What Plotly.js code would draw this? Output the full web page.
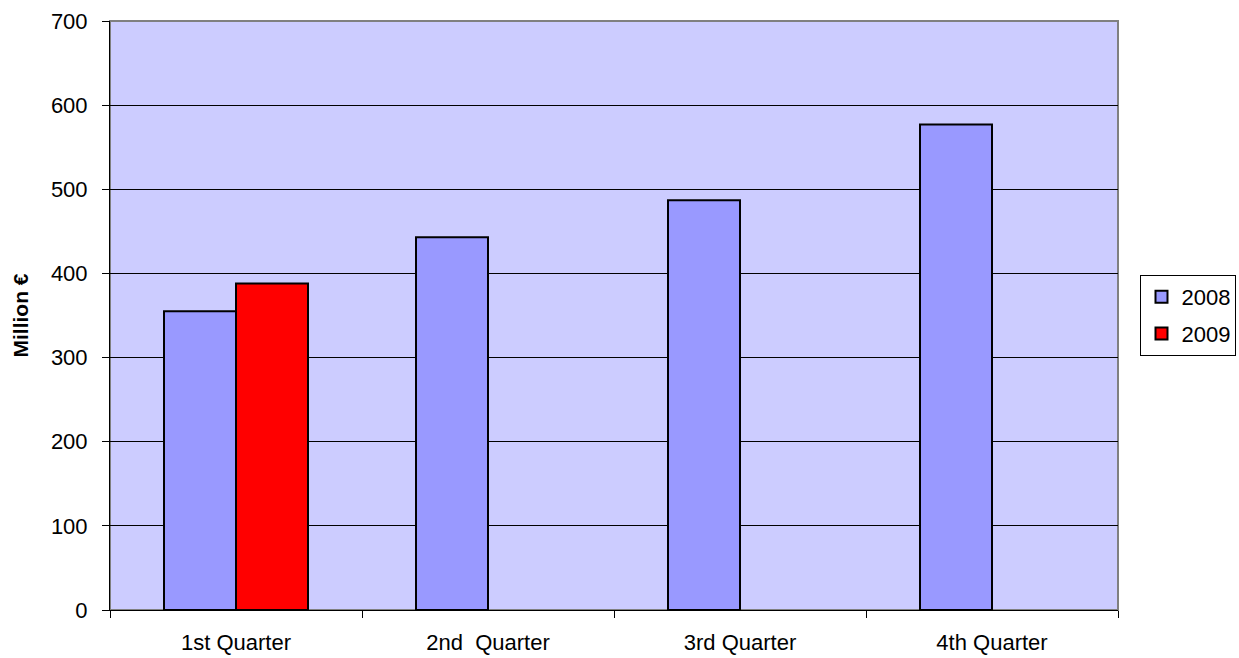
<!DOCTYPE html>
<html>
<head>
<meta charset="utf-8">
<script src="https://cdn.plot.ly/plotly-3.0.1.min.js"></script>
<style>html,body{margin:0;padding:0;background:#fff;}#chart{width:1239px;height:658px;}</style>
</head>
<body>
<div id="chart"></div>
<script>
const categories = ["1st Quarter", "2nd\u00a0 Quarter", "3rd Quarter", "4th Quarter"];
const series2008 = [355, 443, 487, 577];
const series2009 = [388, null, null, null];
const yTicks = [0, 100, 200, 300, 400, 500, 600, 700];

const traces = [
  {type: "bar", name: "2008", x: categories, y: series2008, legendgroup: "a",
   marker: {color: "#9999FF", line: {color: "#000000", width: 2}}},
  {type: "bar", name: "2009", x: categories, y: series2009, legendgroup: "b",
   marker: {color: "#FF0000", line: {color: "#000000", width: 2}}}
];

const layout = {
  width: 1239, height: 658,
  margin: {l: 110, r: 121, t: 21, b: 48, pad: 0, autoexpand: false},
  paper_bgcolor: "#ffffff",
  plot_bgcolor: "#CCCCFF",
  barmode: "group",
  bargap: 0.4286,
  bargroupgap: 0,
  font: {family: "Liberation Sans, Arial, sans-serif", size: 22, color: "#000"},
  showlegend: true,
  legend: {xref: "container", yref: "container", x: 0.9205, xanchor: "left", y: 0.5205, yanchor: "middle",
           bordercolor: "#000", borderwidth: 1, bgcolor: "#fff",
           font: {size: 22}, tracegroupgap: 5, traceorder: "grouped", itemwidth: 30},
  xaxis: {type: "category", showline: true, linecolor: "#000", linewidth: 1,
          ticks: "outside", tickson: "boundaries", ticklen: 7, tickcolor: "#000",
          showgrid: false, zeroline: false, tickfont: {size: 22}, ticklabelstandoff: 13},
  yaxis: {range: [0, 700], tickvals: yTicks, showline: true, linecolor: "#000", linewidth: 1,
          ticks: "outside", ticklen: 7, tickcolor: "#000",
          showgrid: true, gridcolor: "#000", gridwidth: 1, zeroline: false,
          tickfont: {size: 22}, ticklabelstandoff: 10,
          title: {text: "<b>Million €</b>", font: {size: 21}, standoff: 16}},
  shapes: [{type: "rect", xref: "paper", yref: "paper", x0: 0, x1: 1, y0: 0, y1: 1,
            line: {color: "#808080", width: 2}, layer: "below"}]
};

Plotly.newPlot("chart", traces, layout, {displayModeBar: false, staticPlot: true});
</script>
</body>
</html>
